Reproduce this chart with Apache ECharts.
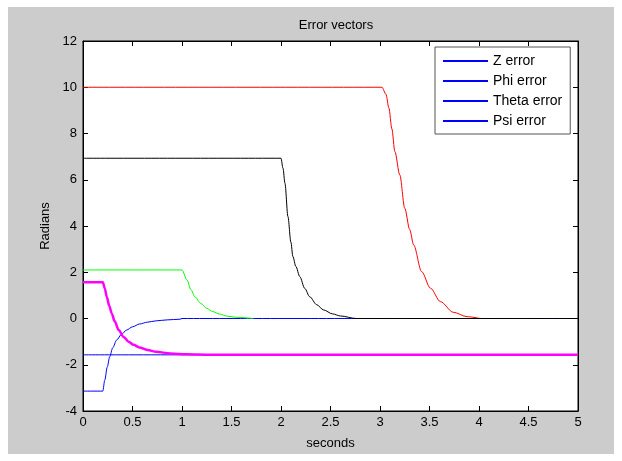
<!DOCTYPE html>
<html>
<head>
<meta charset="utf-8">
<script src="https://cdn.jsdelivr.net/npm/echarts@6/dist/echarts.min.js"></script>
<style>
  html, body { margin: 0; padding: 0; background: #fff; }
  #chart { width: 622px; height: 461px; }
</style>
</head>
<body>
<div id="chart"></div>
<script>
// values, [seconds, radians]
const redErr = [
  [0, 10], [3.02, 10], [3.06, 9.7], [3.09, 9.1], [3.12, 8.2], [3.15, 7.22], [3.2, 6.21],
  [3.25, 4.77], [3.3, 3.85], [3.34, 3.18], [3.42, 2.03], [3.51, 1.31], [3.61, 0.73],
  [3.74, 0.27], [3.88, 0.08], [4.01, 0]
];
const blackErr = [
  [0, 6.93], [2.0, 6.93], [2.02, 6.5], [2.04, 5.85], [2.07, 4.41], [2.1, 3.3], [2.12, 2.68],
  [2.15, 2.25], [2.19, 1.81], [2.24, 1.3], [2.29, 0.94], [2.36, 0.6], [2.43, 0.37],
  [2.52, 0.2], [2.6, 0.11], [2.76, 0], [5, 0]
];
const greenErr = [
  [0, 2.1], [1.0, 2.1], [1.05, 1.67], [1.09, 1.25], [1.13, 0.94], [1.19, 0.65],
  [1.25, 0.44], [1.31, 0.3], [1.38, 0.19], [1.46, 0.1], [1.55, 0.05], [1.72, 0]
];
const blueRise = [
  [0, -3.14], [0.2, -3.14], [0.22, -2.66], [0.245, -2.1], [0.27, -1.65], [0.3, -1.27],
  [0.34, -0.93], [0.39, -0.68], [0.44, -0.5], [0.5, -0.36], [0.57, -0.24], [0.65, -0.16],
  [0.74, -0.1], [0.85, -0.06], [0.98, -0.03], [1.0, 0], [5, 0]
];
const blueFlat = [[0, -1.571], [5, -1.571]];
const magentaErr = [
  [0, 1.571], [0.2, 1.571], [0.22, 1.3], [0.24, 0.94], [0.265, 0.55], [0.29, 0.22],
  [0.32, -0.12], [0.36, -0.5], [0.41, -0.8], [0.46, -1.0], [0.51, -1.14], [0.57, -1.25],
  [0.65, -1.36], [0.74, -1.44], [0.88, -1.51], [1.05, -1.55], [1.28, -1.571], [5, -1.571]
];
const legendNames = ["Z error", "Phi error", "Theta error", "Psi error"];

const chart = echarts.init(document.getElementById("chart"));

const font = "Liberation Sans, Arial, sans-serif";
const tickStyle = { show: true, inside: true, length: 5, lineStyle: { color: "#000" } };
const lineOf = (data, color, width) => ({
  type: "line",
  data: data,
  showSymbol: false,
  symbol: "none",
  silent: true,
  animation: false,
  smooth: 0.3,
  smoothMonotone: "x",
  lineStyle: { color: color, width: width || 1 },
  itemStyle: { color: color },
});

const option = {
  backgroundColor: "#fff",
  graphic: [
    {
      type: "rect",
      z: -10,
      shape: { x: 8, y: 7, width: 606, height: 447 },
      style: { fill: "#cccccc" },
    },
    {
      type: "rect",
      z: -5,
      shape: { x: 83, y: 41, width: 495, height: 370 },
      style: { fill: "#fff" },
    },
  ],
  title: {
    text: "Error vectors",
    left: 331,
    top: 14,
    textAlign: "center",
    textStyle: { fontFamily: font, fontSize: 13, fontWeight: "normal", color: "#000" },
  },
  legend: {
    data: legendNames,
    orient: "vertical",
    left: 435,
    top: 47,
    padding: [7, 8, 6, 8],
    itemGap: 6,
    itemWidth: 45,
    itemHeight: 2,
    icon: "rect",
    backgroundColor: "#fff",
    borderColor: "#555",
    borderWidth: 1,
    selectedMode: false,
    textStyle: { fontFamily: font, fontSize: 14, color: "#000", lineHeight: 14 },
  },
  grid: { left: 83, right: 44, top: 41, bottom: 50, show: true, borderColor: "#000", borderWidth: 1, backgroundColor: "transparent" },
  xAxis: [
    {
      type: "value",
      min: 0,
      max: 5,
      interval: 0.5,
      name: "seconds",
      nameLocation: "middle",
      nameGap: 26,
      nameTextStyle: { fontFamily: font, fontSize: 13, color: "#000" },
      axisLine: { onZero: false, lineStyle: { color: "#000" } },
      axisTick: tickStyle,
      splitLine: { show: false },
      axisLabel: { fontFamily: font, fontSize: 13, color: "#000", margin: 5 },
    },
    {
      type: "value",
      position: "top",
      min: 0,
      max: 5,
      interval: 0.5,
      axisLine: { show: true, onZero: false, lineStyle: { color: "#000" } },
      axisTick: tickStyle,
      splitLine: { show: false },
      axisLabel: { show: false },
    },
  ],
  yAxis: [
    {
      type: "value",
      min: -4,
      max: 12,
      interval: 2,
      name: "Radians",
      nameLocation: "middle",
      nameGap: 31,
      nameTextStyle: { fontFamily: font, fontSize: 13, color: "#000" },
      axisLine: { show: true, onZero: false, lineStyle: { color: "#000" } },
      axisTick: tickStyle,
      splitLine: { show: false },
      axisLabel: { fontFamily: font, fontSize: 13, color: "#000", margin: 6 },
    },
    {
      type: "value",
      position: "right",
      min: -4,
      max: 12,
      interval: 2,
      axisLine: { show: true, onZero: false, lineStyle: { color: "#000" } },
      axisTick: tickStyle,
      splitLine: { show: false },
      axisLabel: { show: false },
    },
  ],
  series: [
    // legend entries, all blue as in the original
    ...legendNames.map((n) => ({ ...lineOf([], "#0000ff", 2), name: n })),
    lineOf(redErr, "#ff0000"),
    lineOf(blueRise, "#0000ff"),
    lineOf(greenErr, "#00ff00"),
    lineOf(blackErr, "#000000"),
    lineOf(blueFlat, "#0000ff"),
    lineOf(magentaErr, "#ff00ff", 2.5),
  ],
};

chart.setOption(option);
</script>
</body>
</html>
